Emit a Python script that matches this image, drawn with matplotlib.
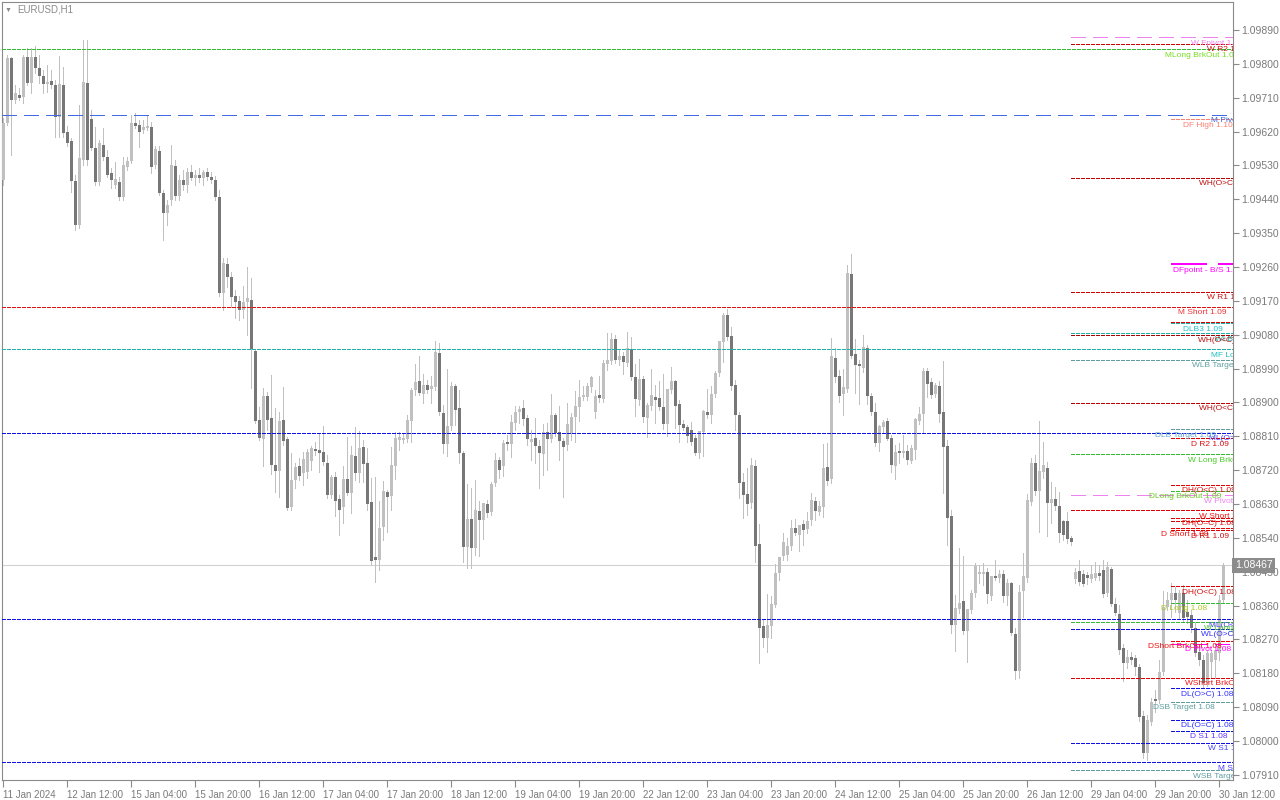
import numpy as np
import matplotlib
matplotlib.use("Agg")
import matplotlib.pyplot as plt
import matplotlib.transforms as mtransforms

# EURUSD H1, bars from 11 Jan 20:00 to 30 Jan 13:00 (weekends skipped)
opens = [
    1.09491, 1.09643, 1.09816, 1.09704, 1.09718, 1.09712, 1.09818, 1.09749, 1.09818, 1.09789,
    1.09768, 1.09746, 1.09754, 1.09744, 1.09658, 1.09744, 1.09619, 1.09595, 1.09488, 1.09372,
    1.09545, 1.09749, 1.09653, 1.09577, 1.09486, 1.09585, 1.09552, 1.09510, 1.09478, 1.09486,
    1.09446, 1.09526, 1.09542, 1.09643, 1.09638, 1.09624, 1.09630, 1.09632, 1.09532, 1.09568,
    1.09457, 1.09404, 1.09438, 1.09529, 1.09449, 1.09491, 1.09478, 1.09513, 1.09497, 1.09505,
    1.09497, 1.09513, 1.09499, 1.09491, 1.09446, 1.09191, 1.09268, 1.09233, 1.09183, 1.09169,
    1.09146, 1.09167, 1.09172, 1.09036, 1.08853, 1.08803, 1.08917, 1.08859, 1.08734, 1.08718,
    1.08853, 1.08803, 1.08622, 1.08694, 1.08731, 1.08713, 1.08716, 1.08744, 1.08776, 1.08774,
    1.08769, 1.08739, 1.08654, 1.08702, 1.08643, 1.08622, 1.08697, 1.08659, 1.08758, 1.08713,
    1.08782, 1.08739, 1.08635, 1.08489, 1.08481, 1.08569, 1.08662, 1.08651, 1.08731, 1.08800,
    1.08800, 1.08803, 1.08851, 1.08933, 1.08957, 1.08922, 1.08947, 1.08936, 1.08941, 1.09031,
    1.08872, 1.08790, 1.08837, 1.08944, 1.08886, 1.08766, 1.08516, 1.08590, 1.08513, 1.08611,
    1.08588, 1.08630, 1.08609, 1.08686, 1.08747, 1.08731, 1.08795, 1.08790, 1.08845, 1.08875,
    1.08886, 1.08859, 1.08795, 1.08806, 1.08784, 1.08763, 1.08822, 1.08803, 1.08867, 1.08822,
    1.08797, 1.08787, 1.08819, 1.08862, 1.08888, 1.08915, 1.08915, 1.08941, 1.08875, 1.08920,
    1.08909, 1.09002, 1.09010, 1.09069, 1.09013, 1.09023, 1.09005, 1.09042, 1.08968, 1.08907,
    1.08962, 1.08859, 1.08891, 1.08915, 1.08912, 1.08888, 1.08843, 1.08933, 1.08957, 1.08896,
    1.08843, 1.08835, 1.08827, 1.08806, 1.08766, 1.08822, 1.08875, 1.08867, 1.08922, 1.08978,
    1.09061, 1.09133, 1.09077, 1.08947, 1.08867, 1.08689, 1.08657, 1.08633, 1.08731, 1.08524,
    1.08306, 1.08274, 1.08306, 1.08362, 1.08447, 1.08492, 1.08494, 1.08518, 1.08566, 1.08548,
    1.08577, 1.08564, 1.08588, 1.08638, 1.08609, 1.08622, 1.08728, 1.08697, 1.09018, 1.08970,
    1.08922, 1.08936, 1.09242, 1.09029, 1.09002, 1.08992, 1.09045, 1.08917, 1.08875, 1.08792,
    1.08835, 1.08851, 1.08806, 1.08731, 1.08771, 1.08766, 1.08771, 1.08744, 1.08774, 1.08851,
    1.08870, 1.08983, 1.08955, 1.08922, 1.08944, 1.08875, 1.08784, 1.08598, 1.08308, 1.08351,
    1.08373, 1.08293, 1.08349, 1.08394, 1.08444, 1.08444, 1.08449, 1.08386, 1.08439, 1.08433,
    1.08444, 1.08386, 1.08420, 1.08285, 1.08186, 1.08399, 1.08433, 1.08635, 1.08739, 1.08665,
    1.08716, 1.08726, 1.08633, 1.08643, 1.08625, 1.08585, 1.08585, 1.08540, 1.08431, 1.08452,
    1.08444, 1.08441, 1.08431, 1.08433, 1.08447, 1.08455, 1.08394, 1.08457, 1.08365, 1.08338,
    1.08248, 1.08208, 1.08224, 1.08221, 1.08197, 1.08067, 1.07968, 1.08051, 1.08112, 1.08109,
    1.08184, 1.08357, 1.08375, 1.08394, 1.08341, 1.08394, 1.08343, 1.08335, 1.08300, 1.08237,
    1.08216, 1.08154, 1.08210, 1.08216, 1.08234, 1.08375,
]
highs = [
    1.09656, 1.09824, 1.09818, 1.09744, 1.09736, 1.09824, 1.09842, 1.09842, 1.09847, 1.09824,
    1.09784, 1.09797, 1.09784, 1.09757, 1.09821, 1.09791, 1.09635, 1.09603, 1.09505, 1.09691,
    1.09863, 1.09863, 1.09677, 1.09632, 1.09598, 1.09630, 1.09571, 1.09524, 1.09540, 1.09499,
    1.09552, 1.09552, 1.09664, 1.09669, 1.09651, 1.09651, 1.09664, 1.09646, 1.09582, 1.09582,
    1.09465, 1.09438, 1.09585, 1.09545, 1.09505, 1.09518, 1.09524, 1.09532, 1.09518, 1.09524,
    1.09518, 1.09524, 1.09513, 1.09502, 1.09465, 1.09284, 1.09284, 1.09247, 1.09199, 1.09183,
    1.09210, 1.09260, 1.09231, 1.09039, 1.08888, 1.08939, 1.08928, 1.08973, 1.08886, 1.08875,
    1.08941, 1.08808, 1.08766, 1.08739, 1.08753, 1.08769, 1.08776, 1.08784, 1.08795, 1.08819,
    1.08837, 1.08761, 1.08708, 1.08716, 1.08654, 1.08731, 1.08808, 1.08784, 1.08835, 1.08824,
    1.08800, 1.08779, 1.08700, 1.08702, 1.08638, 1.08691, 1.08667, 1.08782, 1.08822, 1.08822,
    1.08819, 1.08867, 1.08939, 1.09002, 1.09023, 1.08975, 1.08960, 1.08970, 1.09063, 1.09058,
    1.08893, 1.08989, 1.08955, 1.08949, 1.08933, 1.08771, 1.08683, 1.08673, 1.08694, 1.08638,
    1.08609, 1.08641, 1.08689, 1.08766, 1.08755, 1.08800, 1.08813, 1.08867, 1.08891, 1.08891,
    1.08907, 1.08867, 1.08827, 1.08859, 1.08800, 1.08843, 1.08845, 1.08922, 1.08872, 1.08891,
    1.08806, 1.08899, 1.08872, 1.08931, 1.08960, 1.08944, 1.08952, 1.08970, 1.08933, 1.08970,
    1.09013, 1.09085, 1.09085, 1.09080, 1.09039, 1.09034, 1.09088, 1.09074, 1.09002, 1.09015,
    1.08970, 1.08899, 1.08989, 1.08947, 1.08957, 1.08975, 1.08936, 1.08994, 1.08960, 1.08907,
    1.08853, 1.08840, 1.08848, 1.08813, 1.08800, 1.08880, 1.08936, 1.08944, 1.08983, 1.08986,
    1.09138, 1.09149, 1.09101, 1.08960, 1.08875, 1.08713, 1.08726, 1.08753, 1.08747, 1.08577,
    1.08322, 1.08391, 1.08386, 1.08471, 1.08476, 1.08553, 1.08540, 1.08588, 1.08590, 1.08569,
    1.08588, 1.08609, 1.08659, 1.08649, 1.08638, 1.08790, 1.08792, 1.09072, 1.09045, 1.08986,
    1.08989, 1.09266, 1.09295, 1.09069, 1.09013, 1.09080, 1.09053, 1.08925, 1.08899, 1.08840,
    1.08853, 1.08859, 1.08813, 1.08787, 1.08792, 1.08813, 1.08787, 1.08787, 1.08859, 1.08888,
    1.08992, 1.08992, 1.08965, 1.08952, 1.08957, 1.09010, 1.08800, 1.08614, 1.08388, 1.08513,
    1.08492, 1.08322, 1.08402, 1.08473, 1.08468, 1.08473, 1.08460, 1.08402, 1.08481, 1.08455,
    1.08455, 1.08431, 1.08423, 1.08300, 1.08415, 1.08500, 1.08657, 1.08753, 1.08761, 1.08851,
    1.08795, 1.08742, 1.08689, 1.08675, 1.08662, 1.08588, 1.08609, 1.08545, 1.08460, 1.08481,
    1.08455, 1.08449, 1.08468, 1.08476, 1.08468, 1.08481, 1.08476, 1.08463, 1.08380, 1.08362,
    1.08258, 1.08242, 1.08237, 1.08229, 1.08205, 1.08080, 1.08070, 1.08115, 1.08136, 1.08216,
    1.08399, 1.08397, 1.08420, 1.08410, 1.08402, 1.08415, 1.08375, 1.08349, 1.08317, 1.08248,
    1.08229, 1.08242, 1.08242, 1.08256, 1.08388, 1.08473,
]
lows = [
    1.09478, 1.09638, 1.09558, 1.09696, 1.09704, 1.09696, 1.09744, 1.09723, 1.09776, 1.09749,
    1.09723, 1.09726, 1.09736, 1.09605, 1.09605, 1.09605, 1.09582, 1.09460, 1.09358, 1.09364,
    1.09532, 1.09532, 1.09571, 1.09478, 1.09478, 1.09545, 1.09499, 1.09470, 1.09470, 1.09438,
    1.09438, 1.09518, 1.09537, 1.09630, 1.09579, 1.09616, 1.09624, 1.09510, 1.09524, 1.09452,
    1.09332, 1.09372, 1.09425, 1.09438, 1.09438, 1.09465, 1.09460, 1.09491, 1.09478, 1.09486,
    1.09478, 1.09491, 1.09483, 1.09438, 1.09183, 1.09146, 1.09207, 1.09153, 1.09125, 1.09119,
    1.09125, 1.09080, 1.08939, 1.08845, 1.08800, 1.08731, 1.08827, 1.08710, 1.08662, 1.08648,
    1.08787, 1.08614, 1.08614, 1.08673, 1.08694, 1.08681, 1.08700, 1.08721, 1.08761, 1.08716,
    1.08734, 1.08646, 1.08646, 1.08598, 1.08548, 1.08580, 1.08654, 1.08606, 1.08694, 1.08689,
    1.08689, 1.08614, 1.08468, 1.08423, 1.08455, 1.08534, 1.08556, 1.08614, 1.08697, 1.08774,
    1.08792, 1.08795, 1.08795, 1.08920, 1.08920, 1.08899, 1.08925, 1.08899, 1.08933, 1.08867,
    1.08766, 1.08758, 1.08827, 1.08840, 1.08739, 1.08476, 1.08460, 1.08460, 1.08494, 1.08492,
    1.08537, 1.08596, 1.08601, 1.08678, 1.08700, 1.08705, 1.08774, 1.08755, 1.08827, 1.08845,
    1.08840, 1.08787, 1.08747, 1.08739, 1.08673, 1.08708, 1.08721, 1.08795, 1.08811, 1.08747,
    1.08648, 1.08774, 1.08800, 1.08795, 1.08850, 1.08907, 1.08907, 1.08928, 1.08859, 1.08901,
    1.08901, 1.08986, 1.09002, 1.09005, 1.09000, 1.08975, 1.08997, 1.08960, 1.08864, 1.08893,
    1.08848, 1.08808, 1.08880, 1.08845, 1.08880, 1.08830, 1.08811, 1.08925, 1.08832, 1.08795,
    1.08827, 1.08795, 1.08787, 1.08761, 1.08753, 1.08758, 1.08859, 1.08845, 1.08915, 1.08970,
    1.09007, 1.09066, 1.08933, 1.08827, 1.08646, 1.08593, 1.08601, 1.08620, 1.08476, 1.08208,
    1.08250, 1.08237, 1.08274, 1.08357, 1.08428, 1.08481, 1.08481, 1.08508, 1.08548, 1.08505,
    1.08521, 1.08553, 1.08574, 1.08588, 1.08601, 1.08596, 1.08681, 1.08686, 1.08955, 1.08901,
    1.08867, 1.08928, 1.09018, 1.08925, 1.08896, 1.08981, 1.08896, 1.08867, 1.08784, 1.08771,
    1.08819, 1.08800, 1.08716, 1.08697, 1.08739, 1.08755, 1.08737, 1.08739, 1.08750, 1.08843,
    1.08819, 1.08915, 1.08912, 1.08915, 1.08848, 1.08659, 1.08521, 1.08287, 1.08240, 1.08341,
    1.08285, 1.08210, 1.08341, 1.08383, 1.08420, 1.08415, 1.08367, 1.08375, 1.08428, 1.08423,
    1.08370, 1.08362, 1.08282, 1.08165, 1.08168, 1.08330, 1.08423, 1.08627, 1.08654, 1.08556,
    1.08700, 1.08545, 1.08580, 1.08614, 1.08529, 1.08534, 1.08526, 1.08521, 1.08420, 1.08415,
    1.08412, 1.08418, 1.08423, 1.08428, 1.08428, 1.08383, 1.08386, 1.08359, 1.08335, 1.08232,
    1.08160, 1.08194, 1.08205, 1.08176, 1.08053, 1.07955, 1.07950, 1.08043, 1.08077, 1.08101,
    1.08176, 1.08349, 1.08330, 1.08343, 1.08328, 1.08320, 1.08314, 1.08290, 1.08226, 1.08202,
    1.08144, 1.08146, 1.08168, 1.08168, 1.08216, 1.08367,
]
closes = [
    1.09643, 1.09816, 1.09704, 1.09723, 1.09710, 1.09818, 1.09749, 1.09818, 1.09789, 1.09768,
    1.09746, 1.09752, 1.09744, 1.09658, 1.09746, 1.09616, 1.09590, 1.09488, 1.09372, 1.09550,
    1.09752, 1.09545, 1.09577, 1.09486, 1.09590, 1.09552, 1.09505, 1.09491, 1.09494, 1.09446,
    1.09532, 1.09542, 1.09643, 1.09635, 1.09619, 1.09632, 1.09635, 1.09526, 1.09574, 1.09457,
    1.09404, 1.09425, 1.09532, 1.09449, 1.09491, 1.09478, 1.09513, 1.09497, 1.09505, 1.09497,
    1.09513, 1.09499, 1.09491, 1.09446, 1.09191, 1.09271, 1.09233, 1.09180, 1.09167, 1.09146,
    1.09167, 1.09178, 1.09042, 1.08850, 1.08806, 1.08917, 1.08853, 1.08734, 1.08718, 1.08850,
    1.08797, 1.08620, 1.08694, 1.08728, 1.08705, 1.08750, 1.08769, 1.08779, 1.08771, 1.08766,
    1.08742, 1.08654, 1.08702, 1.08638, 1.08614, 1.08697, 1.08659, 1.08761, 1.08713, 1.08779,
    1.08737, 1.08630, 1.08478, 1.08481, 1.08566, 1.08665, 1.08649, 1.08734, 1.08806, 1.08808,
    1.08806, 1.08853, 1.08933, 1.08955, 1.08925, 1.08947, 1.08933, 1.08944, 1.09034, 1.08875,
    1.08790, 1.08837, 1.08944, 1.08880, 1.08766, 1.08516, 1.08590, 1.08513, 1.08614, 1.08588,
    1.08633, 1.08606, 1.08683, 1.08747, 1.08721, 1.08792, 1.08790, 1.08848, 1.08875, 1.08883,
    1.08856, 1.08803, 1.08803, 1.08784, 1.08766, 1.08822, 1.08803, 1.08867, 1.08819, 1.08797,
    1.08782, 1.08843, 1.08862, 1.08891, 1.08915, 1.08920, 1.08944, 1.08968, 1.08917, 1.08912,
    1.09005, 1.09013, 1.09069, 1.09013, 1.09023, 1.09007, 1.09045, 1.08968, 1.08909, 1.08962,
    1.08862, 1.08893, 1.08920, 1.08907, 1.08888, 1.08843, 1.08936, 1.08957, 1.08891, 1.08840,
    1.08832, 1.08811, 1.08795, 1.08766, 1.08824, 1.08877, 1.08867, 1.08922, 1.08978, 1.09063,
    1.09133, 1.09074, 1.08944, 1.08867, 1.08686, 1.08654, 1.08630, 1.08734, 1.08518, 1.08300,
    1.08274, 1.08308, 1.08365, 1.08447, 1.08489, 1.08529, 1.08518, 1.08566, 1.08553, 1.08574,
    1.08561, 1.08585, 1.08641, 1.08611, 1.08625, 1.08726, 1.08691, 1.09023, 1.08968, 1.08917,
    1.08941, 1.09245, 1.09023, 1.09000, 1.08997, 1.09047, 1.08917, 1.08875, 1.08792, 1.08837,
    1.08848, 1.08803, 1.08734, 1.08769, 1.08766, 1.08771, 1.08747, 1.08779, 1.08856, 1.08870,
    1.08983, 1.08949, 1.08920, 1.08947, 1.08870, 1.08782, 1.08593, 1.08308, 1.08354, 1.08367,
    1.08293, 1.08351, 1.08394, 1.08465, 1.08449, 1.08449, 1.08391, 1.08439, 1.08433, 1.08444,
    1.08386, 1.08420, 1.08287, 1.08186, 1.08396, 1.08439, 1.08641, 1.08739, 1.08665, 1.08718,
    1.08734, 1.08633, 1.08643, 1.08625, 1.08553, 1.08548, 1.08537, 1.08529, 1.08449, 1.08423,
    1.08418, 1.08433, 1.08444, 1.08447, 1.08439, 1.08391, 1.08463, 1.08365, 1.08341, 1.08242,
    1.08208, 1.08224, 1.08216, 1.08197, 1.08064, 1.07968, 1.08056, 1.08104, 1.08107, 1.08184,
    1.08357, 1.08375, 1.08394, 1.08375, 1.08394, 1.08327, 1.08330, 1.08300, 1.08234, 1.08216,
    1.08154, 1.08234, 1.08234, 1.08242, 1.08375, 1.08467,
]

time_labels = ["11 Jan 2024", "12 Jan 12:00", "15 Jan 04:00", "15 Jan 20:00", "16 Jan 12:00",
               "17 Jan 04:00", "17 Jan 20:00", "18 Jan 12:00", "19 Jan 04:00", "19 Jan 20:00",
               "22 Jan 12:00", "23 Jan 04:00", "23 Jan 20:00", "24 Jan 12:00", "25 Jan 04:00",
               "25 Jan 20:00", "26 Jan 12:00", "29 Jan 04:00", "29 Jan 20:00", "30 Jan 12:00"]
bid = 1.08467

# indicator levels: monthly (whole chart), weekly (from Monday), daily (from today)
lvl_text = ["MLong BrkOut 1.09", "M Pivot 1.09", "M Short 1.09", "MF Long 1.09",
            "ML(O>C) 1.09", "ML(O<C) 1.08", "M S1 1.08",
            "W Fpivot 1.10", "W R2 1.10", "WH(O>C) 1.09", "W R1 1.09", "WLB 1.09",
            "WH(O<C) 1.09", "WLB Target 1.09", "WH(O<C) 1.09", "W Long BrkOut 1.09",
            "W Pivot 1.09", "W Short 1.09", "W Long 1.08", "WL(O>C) 1.08",
            "WShort BrkOut 1.08", "W S1 1.08", "WSB Target 1.08",
            "DF High 1.10", "DFpoint - B/S 1.09", "", "DLB3 1.09", "DLB Target 1.09",
            "D R2 1.09", "DH(O<C) 1.09", "DLong BrkOut 1.09", "DH(O=C) 1.08", "",
            "D Short 1.09", "D R1 1.09", "DH(O<C) 1.08", "D Long 1.08",
            "DShort BrkOut 1.08", "D Pivot 1.08", "DL(O>C) 1.08", "DSB Target 1.08",
            "DL(O=C) 1.08", "D S1 1.08"]
lvl_price = [1.09839, 1.09665, 1.09154, 1.09042, 1.08819, 1.08324, 1.07944,
             1.09871, 1.09853, 1.09497, 1.09194, 1.09084, 1.09080, 1.09013, 1.08899, 1.08763,
             1.08654, 1.08614, 1.08316, 1.08298, 1.08168, 1.07995, 1.07923,
             1.09653, 1.09268, 1.09114, 1.09111, 1.08829, 1.08805, 1.08681, 1.08665,
             1.08593, 1.08585, 1.08566, 1.08561, 1.08412, 1.08367, 1.08266, 1.08258,
             1.08141, 1.08104, 1.08056, 1.08027]
lvl_kind = ["M"] * 7 + ["W"] * 16 + ["D"] * 20

# style per level: line colour, line style key, label colour, label start (bar units)
lvl_color = ["#33bb33", "#4169e1", "#dd1111", "#20b2aa", "#1010e0", "#1010e0", "#1010e0",
             "#ee82ee", "#cc0000", "#bb0000", "#cc0000", "#20b2aa", "#aa0000", "#5f9ea0",
             "#bb0000", "#33bb33", "#ee82ee", "#dd0000", "#33bb33", "#1010e0", "#dd0000",
             "#1010e0", "#5f9ea0",
             "#fa8072", "#ff00ff", "#dd0000", "#20b2aa", "#5f9ea0", "#dd0000", "#dd0000",
             "#33bb33", "#dd0000", "#dd0000", "#ee0000", "#dd0000", "#dd0000", "#33bb33",
             "#ee0000", "#ff00ff", "#1010e0", "#5f9ea0", "#1010e0", "#1010e0"]
lvl_style = ["dot", "long", "dot", "dot", "dot", "dot", "dot",
             "long", "dot", "dot", "dot", "dot", "dot", "dot", "dot", "dot",
             "long", "dot", "dot", "dot", "dot", "dot", "dot",
             "dot", "solid", "dot", "dot", "dot", "dot", "dot", "dot", "dot", "dot",
             "dot", "dot", "dot", "dot", "dot", "long", "dot", "dot", "dot", "dot"]
lbl_color = ["#77dd22", "#4169e1", "#ee3333", "#20c0c0", "#4a3cff", "#4a3cff", "#4a3cff",
             "#ee82ee", "#cc1111", "#bb1111", "#cc1111", "#20b2aa", "#bb1111", "#5f9ea0",
             "#bb1111", "#44cc22", "#ee82ee", "#ee1111", "#44cc22", "#3333ff", "#ee1111",
             "#4444ff", "#5f9ea0",
             "#fa8072", "#ff00ff", "#dd0000", "#20c0d0", "#66aacc", "#dd1111", "#dd1111",
             "#66cc22", "#dd1111", "#dd1111", "#ee1111", "#cc1111", "#cc1111", "#aacc22",
             "#ee1111", "#ff00ff", "#3333ff", "#5f9ea0", "#3333ff", "#6633ff"]
lbl_x = [290.5, 302, 293.75, 302, 301.5, 301.5, 303.75,
         297, 301, 299, 301, 303, 298.75, 297.25, 299, 296.25,
         300.25, 299, 300.25, 299.5, 295.5, 301.25, 297.5,
         295, 292.5, 310, 295, 288, 297, 294.75, 286.5, 294.75, 310,
         289.5, 297, 294.75, 289.5, 286.25, 295.5, 294.5, 287.5, 294.5, 296.75]

px = 0.00002658   # one pixel in price
n = min(len(opens), len(highs), len(lows), len(closes))
o = np.array(opens[:n]); h = np.array(highs[:n])
l = np.array(lows[:n]); c = np.array(closes[:n])
x = np.arange(n)

plt.rcParams['font.family'] = ['Liberation Sans', 'DejaVu Sans']
fig = plt.figure(figsize=(12.8, 8), dpi=100)
fig.patch.set_facecolor("white")
ax = fig.add_axes([2 / 1280, 20 / 800, 1231 / 1280, 778 / 800])
ax.set_xlim(-0.25, 307.5)
ax.set_ylim(1.0989 - 750 * px, 1.0989 + 28 * px)

# candles: 1 px wicks, 3 px bodies
up = c >= o
body_lo = np.minimum(o, c)
body_h = np.maximum(np.abs(c - o), px)
ax.vlines(x, l, h, color="#c0c0c0", lw=0.5, zorder=3, antialiased=False)
ax.bar(x[up], body_h[up], bottom=body_lo[up], width=0.75, color="#c0c0c0", lw=0,
       zorder=4, antialiased=False)
ax.bar(x[~up], body_h[~up], bottom=body_lo[~up], width=0.75, color="#777777", lw=0,
       zorder=4, antialiased=False)

# bid line
ax.axhline(bid, color="#d0d0d0", lw=0.75, zorder=2)

styles = {"dot": (0, (3, 2)), "long": (0, (15, 7)), "solid": (0, (18, 6))}
starts = {"M": -0.25, "W": 267, "D": 292}
for i in range(len(lvl_price)):
    lw = 1.4 if lvl_style[i] == "solid" else 0.72
    ax.hlines(lvl_price[i], starts[lvl_kind[i]], 307.5, colors=lvl_color[i],
              linestyles=styles[lvl_style[i]], lw=lw, zorder=5, antialiased=False)
    if lvl_text[i]:
        ax.text(lbl_x[i], lvl_price[i] - 2.5 * px, lvl_text[i], color=lbl_color[i],
                fontsize=6, va="top", ha="left", clip_on=True, zorder=6)

# axes look
for s in ax.spines.values():
    s.set_color("#8a8a8a")
    s.set_linewidth(0.8)
ax.yaxis.tick_right()
yt = np.arange(1.07910, 1.09891, 0.0009)
ax.set_yticks(yt)
ax.set_yticklabels(["%.5f" % v for v in yt])
ax.tick_params(axis="y", colors="#8a8a8a", labelcolor="#7a7a7a", length=4, width=0.8,
               labelsize=7.5, pad=2)
ax.set_xticks(np.arange(0, n, 16)[:len(time_labels)])
ax.set_xticklabels(time_labels, ha="left")
ax.tick_params(axis="x", colors="#8a8a8a", labelcolor="#7a7a7a", length=5, width=0.8,
               labelsize=7, pad=2)

# bid price box on the price scale
tr = mtransforms.blended_transform_factory(ax.transAxes, ax.transData)
ax.text(1.0015, bid, "%.5f" % bid, transform=tr, color="white", fontsize=7.5,
        va="center", ha="left", clip_on=False, zorder=10,
        bbox=dict(boxstyle="square,pad=0.25", fc="#8c8c8c", ec="none"))

fig.text(5 / 1280, 1 - 10 / 800, "\u25bc", fontsize=5, color="#8a8a8a", va="center")
fig.text(17 / 1280, 1 - 10 / 800, "EURUSD,H1", fontsize=7, color="#8a8a8a", va="center")

fig.savefig("out.png", dpi=100, facecolor="white")
